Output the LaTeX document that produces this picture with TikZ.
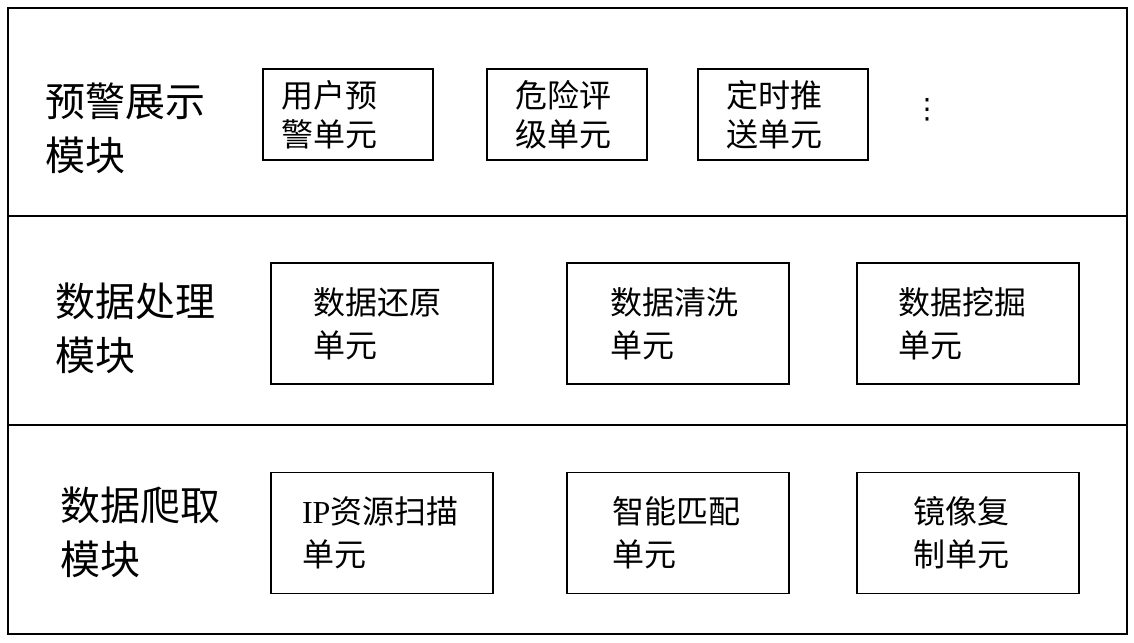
\documentclass[tikz,border=0pt]{standalone}
\usepackage{fontspec}
\newfontfamily\cjk{Noto Sans CJK SC}
\newfontfamily\ipfont{Liberation Serif}
\newfontfamily\symfont{DejaVu Sans}
\usetikzlibrary{positioning}
\begin{document}
\begin{tikzpicture}[
    x=0.75pt, y=-0.75pt,
    every node/.style={align=left},
    frame/.style={draw=black, line width=1.4pt},
    module/.style={anchor=west, inner sep=0pt, font=\cjk\fontsize{30}{40.5}\selectfont},
    unit/.style={rectangle, draw=black, line width=1.4pt, inner sep=0pt, minimum height=68.25pt, font=\cjk\fontsize{24}{29}\selectfont},
    wideunit/.style={unit, minimum width=166.5pt, minimum height=90.75pt, font=\cjk\fontsize{24}{32}\selectfont}
]
    \useasboundingbox (0,0) rectangle (1134,642);

    % Frame with three module rows
    \draw[frame] (8,8) rectangle (1127,634);
    \draw[frame] (8,216) -- (1127,216);
    \draw[frame] (8,425) -- (1127,425);

    % Module labels
    \node[module] (display) at (45,128) {预警展示\\模块};
    \node[module] (process) at (55,328) {数据处理\\模块};
    \node[module] (crawl) at (60,532) {数据爬取\\模块};

    % Units - warning display
    \node[unit, minimum width=127.5pt, text width=100.5pt] (warn) at (348,114.5) {用户预\\警单元};
    \node[unit, minimum width=120pt, text width=78pt, right of=warn, node distance=164.25pt] (grade) {危险评\\级单元};
    \node[unit, minimum width=127.5pt, text width=85.5pt, right of=grade, node distance=162pt] (push) {定时推\\送单元};
    \node[inner sep=0pt] (more) at (927,110) {\symfont\fontsize{21}{21}\selectfont ⋮};

    % Units - data processing
    \node[wideunit, text width=103.5pt] (restore) at (382,323.5) {数据还原\\单元};
    \node[wideunit, text width=102pt, right of=restore, node distance=222pt] (clean) {数据清洗\\单元};
    \node[wideunit, text width=105pt, right of=clean, node distance=217.5pt] (mine) {数据挖掘\\单元};

    % Units - data crawling
    \node[wideunit, text width=120pt, below of=restore, node distance=157.125pt] (scan) {{\ipfont IP}资源扫描\\单元};
    \node[wideunit, text width=99pt, below of=clean, node distance=157.125pt] (match) {智能匹配\\单元};
    \node[wideunit, text width=82.5pt, below of=mine, node distance=157.125pt] (mirror) {镜像复\\制单元};

\end{tikzpicture}
\end{document}
